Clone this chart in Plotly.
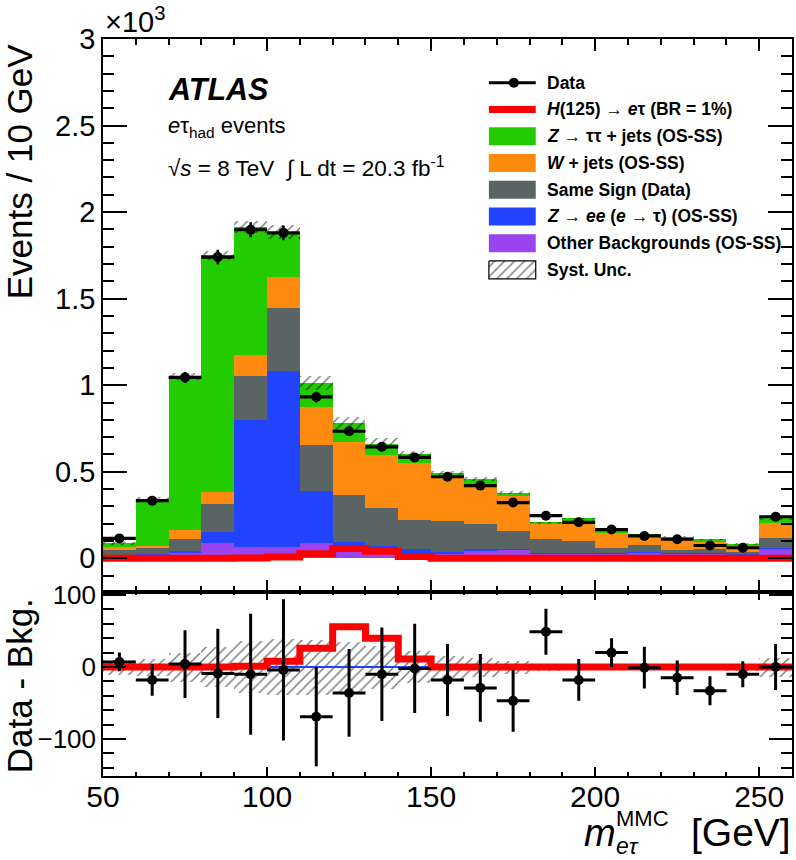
import plotly.graph_objects as go
from plotly.subplots import make_subplots

# ---------------- data ----------------
edges = [50, 60, 70, 80, 90, 100, 110, 120, 130, 140, 150, 160, 170, 180, 190, 200, 210, 220, 230, 240, 250, 260]
centers = [55, 65, 75, 85, 95, 105, 115, 125, 135, 145, 155, 165, 175, 185, 195, 205, 215, 225, 235, 245, 255]

data_obs = [115, 333, 1045, 1740, 1898, 1880, 932, 734, 644, 583, 471, 420, 322, 246, 208, 166, 129, 110, 74, 61, 240]
data_err = [11, 18, 32, 42, 44, 43, 31, 27, 25, 24, 22, 20, 18, 16, 14, 13, 11, 10, 9, 8, 16]

other_bkg = [8, 15, 35, 90, 67, 63, 86, 50, 30, 30, 25, 40, 50, 25, 25, 28, 33, 25, 25, 20, 55]
z_ee = [5, 12, 10, 64, 731, 1020, 302, 46, 40, 22, 10, 15, 5, 5, 5, 4, 5, 3, 4, 2, 3]
same_sign = [35, 31, 65, 159, 256, 365, 266, 269, 218, 169, 180, 141, 104, 81, 70, 29, 39, 20, 23, 16, 61]
w_jets = [15, 13, 55, 68, 123, 177, 221, 308, 308, 327, 247, 233, 200, 89, 117, 87, 52, 58, 44, 37, 86]
z_tautau = [24, 269, 885, 1369, 736, 259, 138, 106, 67, 52, 28, 28, 20, 5, 14, 15, 9, 19, 14, 6, 29]

syst = [10, 12, 20, 28, 36, 39, 38, 35, 30, 22, 16, 13, 9, 5, 4, 4, 4, 4, 4, 5, 13]
signal = [0, 0, 0, 0, 1, 8, 26, 56, 40, 11, 0, 0, 0, 0, 0, 0, 0, 0, 0, 0, 0]

diff = [7, -18, 4, -9, -10, -4, -69, -36, -10, -2, -18, -29, -47, 49, -18, 20, -1, -15, -33, -10, 0]
diff_err = [13, 22, 47, 62, 84, 98, 69, 61, 65, 62, 50, 47, 43, 32, 29, 20, 29, 24, 20, 18, 32]

blue_edges = [100, 110, 120, 130, 140, 150]
blue_vals = [0, 0, 0, 0, 0]

y_ticks = [0, 500, 1000, 1500, 2000, 2500, 3000]
y_ticktext = ["0", "0.5", "1", "1.5", "2", "2.5", "3"]
r_ticks = [-100, 0, 100]
x_ticks = [50, 100, 150, 200, 250]

# ---------------- styles ----------------
C_GREEN = "#22CC00"
C_ORANGE = "#FF8A10"
C_GRAY = "#5A6464"
C_BLUE = "#2244FF"
C_PURPLE = "#9944F0"
C_RED = "#FF0000"
FONT = "Liberation Sans, Arial, Helvetica, sans-serif"

W, H = 796, 860
PL, PR, PT, PB = 103, 794, 39, 776
def px(x):
    return (x - PL) / (PR - PL)
def py(y):
    return (PB - y) / (PB - PT)

split = py(591.7)

fig = make_subplots(rows=2, cols=1, shared_xaxes=False, vertical_spacing=0)

components = [
    ("Other Backgrounds (OS-SS)", other_bkg, C_PURPLE),
    ("Z->ee", z_ee, C_BLUE),
    ("Same Sign (Data)", same_sign, C_GRAY),
    ("W+jets", w_jets, C_ORANGE),
    ("Z->tautau", z_tautau, C_GREEN),
]
base = [0.0] * len(centers)
for name, vals, col in components:
    fig.add_trace(go.Bar(x=centers, y=vals, base=list(base), width=10,
                         marker=dict(color=col, line=dict(width=0)),
                         name=name, showlegend=False), row=1, col=1)
    base = [b + v for b, v in zip(base, vals)]
total = base

HATCH = dict(shape="/", fgcolor="black", bgcolor="rgba(0,0,0,0)", size=7, solidity=0.22)

fig.add_trace(go.Bar(x=centers, y=[2 * s for s in syst],
                     base=[t - s for t, s in zip(total, syst)], width=10,
                     marker=dict(color="rgba(0,0,0,0)", line=dict(width=0), pattern=HATCH),
                     showlegend=False), row=1, col=1)

fig.add_trace(go.Scatter(x=edges, y=signal + [signal[-1]], mode="lines", line_shape="hv",
                         line=dict(color=C_RED, width=7), showlegend=False), row=1, col=1)

fig.add_trace(go.Scatter(x=centers, y=data_obs, mode="markers",
                         marker=dict(color="black", size=10),
                         error_x=dict(type="constant", value=5, thickness=3.2, width=0, color="black"),
                         error_y=dict(type="data", array=data_err, thickness=2.5, width=0, color="black"),
                         showlegend=False), row=1, col=1)

# lower panel
fig.add_trace(go.Bar(x=centers, y=[2 * s for s in syst], base=[-s for s in syst], width=10,
                     marker=dict(color="rgba(0,0,0,0)", line=dict(width=0), pattern=HATCH),
                     showlegend=False), row=2, col=1)
fig.add_trace(go.Scatter(x=blue_edges, y=blue_vals + [blue_vals[-1]], mode="lines", line_shape="hv",
                         line=dict(color=C_BLUE, width=2), showlegend=False), row=2, col=1)
fig.add_trace(go.Scatter(x=edges, y=signal + [signal[-1]], mode="lines", line_shape="hv",
                         line=dict(color=C_RED, width=7), showlegend=False), row=2, col=1)
fig.add_trace(go.Scatter(x=centers, y=diff, mode="markers",
                         marker=dict(color="black", size=10),
                         error_x=dict(type="constant", value=5, thickness=3, width=0, color="black"),
                         error_y=dict(type="data", array=diff_err, thickness=3, width=0, color="black"),
                         showlegend=False), row=2, col=1)

axis_common = dict(showline=True, linecolor="black", linewidth=1.5, mirror="ticks",
                   ticks="inside", tickcolor="black", tickwidth=1.5, showgrid=False, zeroline=False)

fig.update_xaxes(range=[50, 260], tickvals=x_ticks, ticklen=12, showticklabels=False,
                 minor=dict(dtick=10, tick0=50, ticklen=6, ticks="inside", tickcolor="black", tickwidth=1.5),
                 **axis_common, row=1, col=1)
fig.update_xaxes(range=[50, 260], tickvals=x_ticks, ticklen=9, ticklabelstandoff=-7,
                 tickfont=dict(family=FONT, size=30, color="black"),
                 minor=dict(dtick=10, tick0=50, ticklen=4, ticks="inside", tickcolor="black", tickwidth=1.5),
                 **axis_common, row=2, col=1)
fig.update_yaxes(range=[-193, 3000], tickvals=y_ticks, ticktext=y_ticktext, ticklen=24,
                 tickfont=dict(family=FONT, size=29, color="black"),
                 minor=dict(dtick=100, tick0=0, ticklen=11, ticks="inside", tickcolor="black", tickwidth=1.5),
                 domain=[split, 1], **axis_common, row=1, col=1)
fig.update_yaxes(range=[-151.4, 104.6], tickvals=r_ticks, ticklen=23,
                 tickfont=dict(family=FONT, size=26, color="black"),
                 minor=dict(dtick=20, tick0=0, ticklen=11, ticks="inside", tickcolor="black", tickwidth=1.5),
                 domain=[0, split], **axis_common, row=2, col=1)
fig.update_xaxes(domain=[0, 1])

ann = []
def text(x, y, s, size, xanchor="left", yanchor="middle", angle=0, color="black"):
    ann.append(dict(x=px(x), y=py(y), xref="paper", yref="paper", text=s, showarrow=False,
                    xanchor=xanchor, yanchor=yanchor, textangle=angle,
                    font=dict(family=FONT, size=size, color=color)))

text(103, 40, "×10<sup>3</sup>", 29, "left", "bottom")
text(20, 171, "Events / 10 GeV", 35, "center", "middle", -90)
text(19, 686, "Data - Bkg.", 35, "center", "middle", -90)

# x-axis title built from pieces (stacked sub/superscript)
text(583, 833, "<i>m</i>", 38, "left", "middle")
text(615, 818, "MMC", 22, "left", "middle")
text(615, 846, "<i>eτ</i>", 23, "left", "middle")
text(795, 832, "[GeV]", 39, "right", "middle")

text(166, 89, "<b><i>ATLAS</i></b>", 30.5)
text(166, 127, "<i>e</i>τ<sub>had</sub> events", 22)
text(166, 167, "√<i>s</i> = 8 TeV  ∫ L dt = 20.3 fb<sup>-1</sup>", 22.5)

leg = [
    ("<b>Data</b>", None),
    ("<b><i>H</i>(125) → <i>e</i>τ (BR = 1%)</b>", "redline"),
    ("<b><i>Z</i> → ττ + jets (OS-SS)</b>", C_GREEN),
    ("<b><i>W</i> + jets (OS-SS)</b>", C_ORANGE),
    ("<b>Same Sign (Data)</b>", C_GRAY),
    ("<b><i>Z</i> → <i>ee</i> (<i>e</i> → τ) (OS-SS)</b>", C_BLUE),
    ("<b>Other Backgrounds (OS-SS)</b>", C_PURPLE),
    ("<b>Syst. Unc.</b>", "hatch"),
]
shapes = []
y0 = 82.7
dy = 26.75
for i, (lab, sty) in enumerate(leg):
    yc = y0 + i * dy
    text(546.5, yc, lab, 17.5)
    if sty is None:
        shapes.append(dict(type="line", xref="paper", yref="paper", x0=px(490), x1=px(537),
                           y0=py(yc), y1=py(yc), line=dict(color="black", width=3)))
        shapes.append(dict(type="circle", xref="paper", yref="paper", x0=px(510), x1=px(520),
                           y0=py(yc - 5), y1=py(yc + 5), fillcolor="black", line=dict(width=0)))
    elif sty == "redline":
        shapes.append(dict(type="line", xref="paper", yref="paper", x0=px(490), x1=px(537),
                           y0=py(yc), y1=py(yc), line=dict(color=C_RED, width=7)))
    elif sty == "hatch":
        pass
    else:
        shapes.append(dict(type="rect", xref="paper", yref="paper", x0=px(490), x1=px(537),
                           y0=py(yc - 9), y1=py(yc + 9), fillcolor=sty, line=dict(width=0)))

yc = y0 + 7 * dy
def to_x(p):
    return 50 + (p - PL) / (PR - PL) * 210
def to_y(p):
    return -193 + (591.7 - p) / (591.7 - PT) * 3193
sx = [to_x(490), to_x(537), to_x(537), to_x(490), to_x(490)]
sy = [to_y(yc - 9), to_y(yc - 9), to_y(yc + 9), to_y(yc + 9), to_y(yc - 9)]
fig.add_trace(go.Scatter(x=sx, y=sy, mode="lines", fill="toself",
                         line=dict(color="black", width=1.2),
                         fillcolor="rgba(0,0,0,0)", fillpattern=HATCH,
                         showlegend=False), row=1, col=1)

fig.update_layout(width=W, height=H, margin=dict(l=PL, r=W - PR, t=PT, b=H - PB),
                  paper_bgcolor="white", plot_bgcolor="white", barmode="overlay", bargap=0,
                  showlegend=False, annotations=ann, shapes=shapes,
                  font=dict(family=FONT, color="black"))

fig.write_html("out.html", config={"displayModeBar": False},
               post_script="document.body.style.margin='0px';document.body.style.padding='0px';document.body.style.overflow='hidden';")
